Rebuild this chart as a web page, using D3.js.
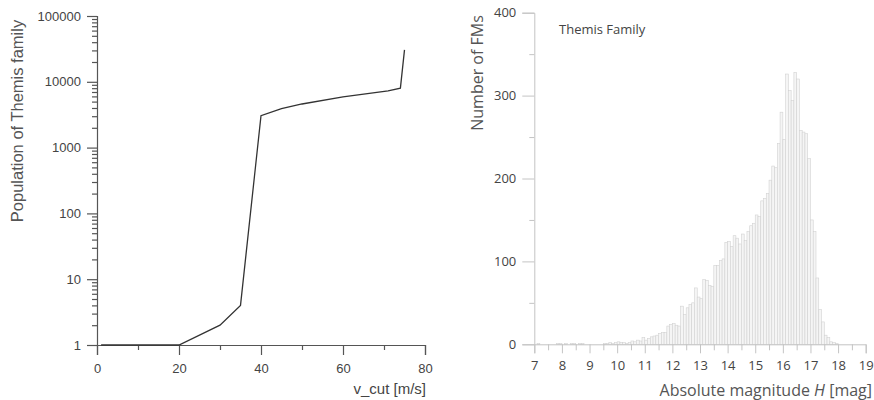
<!DOCTYPE html>
<html>
<head>
<meta charset="utf-8">
<script src="https://cdn.jsdelivr.net/npm/d3@7"></script>
<style>
  body { margin: 0; background: #fff; }
  svg { display: block; }
</style>
</head>
<body>
<svg id="chart" width="874" height="400"></svg>
<script>
// ---- left panel: population vs v_cut ----
var vCut = [1, 10, 20, 30, 35, 40, 45, 50, 60, 71, 74, 75];
var population = [1, 1, 1, 2, 4, 3050, 3900, 4600, 5900, 7300, 8000, 30500];
var vTicks = [0, 20, 40, 60, 80];
var popTicks = [1, 10, 100, 1000, 10000, 100000];

// ---- right panel: histogram of H, bins of 0.1 mag starting at 7.0 ----
var binStart = 7.0;
var binWidth = 0.1;
var counts = [
  0, 1, 0, 0, 0, 0, 0, 0, 1, 1,        // 7.0 - 7.9
  0, 1, 0, 1, 1, 0, 1, 1, 0, 0,        // 8.0 - 8.9
  0, 0, 0, 0, 0, 1, 1, 2, 1, 2,        // 9.0 - 9.9
  3, 2, 2, 1, 2, 4, 3, 5, 4, 8,        // 10.0 - 10.9
  5, 7, 9, 10, 11, 13, 14, 14, 22, 24, // 11.0 - 11.9
  25, 23, 22, 46, 36, 44, 48, 50, 68, 57, // 12.0 - 12.9
  55, 78, 77, 71, 70, 95, 95, 101, 103, 123, // 13.0 - 13.9
  124, 118, 131, 128, 121, 133, 125, 136, 143, 146, // 14.0 - 14.9
  156, 154, 173, 176, 182, 198, 215, 213, 242, 280, // 15.0 - 15.9
  247, 326, 306, 294, 328, 320, 258, 256, 254, 224, // 16.0 - 16.9
  150, 136, 80, 42, 27, 11, 8, 3, 2, 1  // 17.0 - 17.9
];
var hTicks = [7, 8, 9, 10, 11, 12, 13, 14, 15, 16, 17, 18, 19];
var nTicks = [0, 100, 200, 300, 400];

var svg = d3.select("#chart");

// ================= left chart =================
var leftFont = "'Liberation Sans', Arial, sans-serif";
var L = { x0: 97, x1: 425, y0: 16, y1: 345 };

var xL = d3.scaleLinear().domain([0, 80]).range([L.x0, L.x1]);
var yL = d3.scaleLog().domain([1, 100000]).range([L.y1, L.y0]);

var left = svg.append("g");

// y axis with log minor ticks
var minorPop = [];
for (var e = 0; e < 5; e++) {
  for (var m = 2; m <= 9; m++) minorPop.push(m * Math.pow(10, e));
}
left.append("g")
    .attr("transform", "translate(" + L.x0 + ",0)")
    .call(d3.axisLeft(yL).tickValues(minorPop).tickSize(5).tickFormat(""))
    .call(function(g) { g.select(".domain").remove(); });
left.append("g")
    .attr("class", "yaxisL")
    .attr("transform", "translate(" + L.x0 + ",0)")
    .call(d3.axisLeft(yL).tickValues(popTicks).tickSize(10).tickPadding(6)
      .tickFormat(d3.format("d")));

// x axis
left.append("g")
    .attr("transform", "translate(0," + L.y1 + ")")
    .call(d3.axisBottom(xL).tickValues([10, 30, 50, 70]).tickSize(5).tickFormat(""))
    .call(function(g) { g.select(".domain").remove(); });
left.append("g")
    .attr("class", "xaxisL")
    .attr("transform", "translate(0," + L.y1 + ")")
    .call(d3.axisBottom(xL).tickValues(vTicks).tickSize(10).tickPadding(6));

left.selectAll(".domain, .tick line").attr("stroke", "#555").attr("stroke-width", 1.2);
left.selectAll(".tick text")
    .style("font-family", leftFont)
    .style("font-size", "13px")
    .attr("fill", "#444");
left.selectAll(".xaxisL .tick text").attr("dy", "0.95em");

// line
var line = d3.line()
    .x(function(d, i) { return xL(vCut[i]); })
    .y(function(d) { return yL(d); });

left.append("path")
    .datum(population)
    .attr("d", line)
    .attr("fill", "none")
    .attr("stroke", "#333")
    .attr("stroke-width", 1.3);

// titles
left.append("text")
    .attr("transform", "translate(23," + 121 + ") rotate(-90)")
    .style("text-anchor", "middle")
    .style("font-family", leftFont)
    .style("font-size", "16.5px")
    .attr("fill", "#555")
    .text("Population of Themis family");

left.append("text")
    .attr("x", L.x1 + 1)
    .attr("y", 394)
    .style("text-anchor", "end")
    .style("font-family", leftFont)
    .style("font-size", "15px")
    .attr("fill", "#444")
    .text("v_cut [m/s]");

// ================= right chart =================
var rightFont = "'Open Sans', 'Noto Sans', sans-serif";
var R = { x0: 534.3, x1: 865.7, y0: 12.7, y1: 344.3 };

var xR = d3.scaleLinear().domain([7, 19]).range([R.x0, R.x1]);
var yR = d3.scaleLinear().domain([0, 400]).range([R.y1, R.y0]);

var right = svg.append("g");

// histogram bars
right.append("g")
    .selectAll("rect")
    .data(counts)
  .enter().append("rect")
    .attr("x", function(d, i) { return xR(binStart + i * binWidth); })
    .attr("width", function(d, i) { return xR(binStart + (i + 1) * binWidth) - xR(binStart + i * binWidth); })
    .attr("y", function(d) { return yR(d); })
    .attr("height", function(d) { return yR(0) - yR(d); })
    .attr("fill", "#f5f5f5")
    .attr("stroke", "#d2d2d2")
    .attr("stroke-width", 0.6);

// y axis
right.append("g")
    .attr("transform", "translate(" + R.x0 + ",0)")
    .call(d3.axisLeft(yR).tickValues([50, 150, 250, 350]).tickSize(5).tickFormat(""))
    .call(function(g) { g.select(".domain").remove(); });
right.append("g")
    .attr("transform", "translate(" + R.x0 + ",0)")
    .call(d3.axisLeft(yR).tickValues(nTicks).tickSize(12).tickPadding(6));

// x axis
var halfTicks = hTicks.slice(0, -1).map(function(d) { return d + 0.5; });
right.append("g")
    .attr("transform", "translate(0," + R.y1 + ")")
    .call(d3.axisBottom(xR).tickValues(halfTicks).tickSize(6).tickFormat(""))
    .call(function(g) { g.select(".domain").remove(); });
right.append("g")
    .attr("class", "xaxisR")
    .attr("transform", "translate(0," + R.y1 + ")")
    .call(d3.axisBottom(xR).tickValues(hTicks).tickSize(9).tickPadding(7));

right.selectAll(".domain, .tick line").attr("stroke", "#c4c4c4").attr("stroke-width", 1);
right.selectAll(".tick text")
    .style("font-family", rightFont)
    .style("font-size", "13px")
    .attr("fill", "#444");

// titles
right.append("text")
    .attr("transform", "translate(483,73) rotate(-90)")
    .style("text-anchor", "middle")
    .style("font-family", rightFont)
    .style("font-size", "16px")
    .attr("fill", "#555")
    .text("Number of FMs");

var xt = right.append("text")
    .attr("x", 872)
    .attr("y", 396)
    .style("text-anchor", "end")
    .style("font-family", rightFont)
    .style("font-size", "16px")
    .attr("fill", "#555");
xt.append("tspan").text("Absolute magnitude ");
xt.append("tspan").style("font-style", "italic").text("H");
xt.append("tspan").text(" [mag]");

right.append("text")
    .attr("x", 559)
    .attr("y", 34)
    .style("font-family", rightFont)
    .style("font-size", "13px")
    .attr("fill", "#444")
    .text("Themis Family");
</script>
</body>
</html>
